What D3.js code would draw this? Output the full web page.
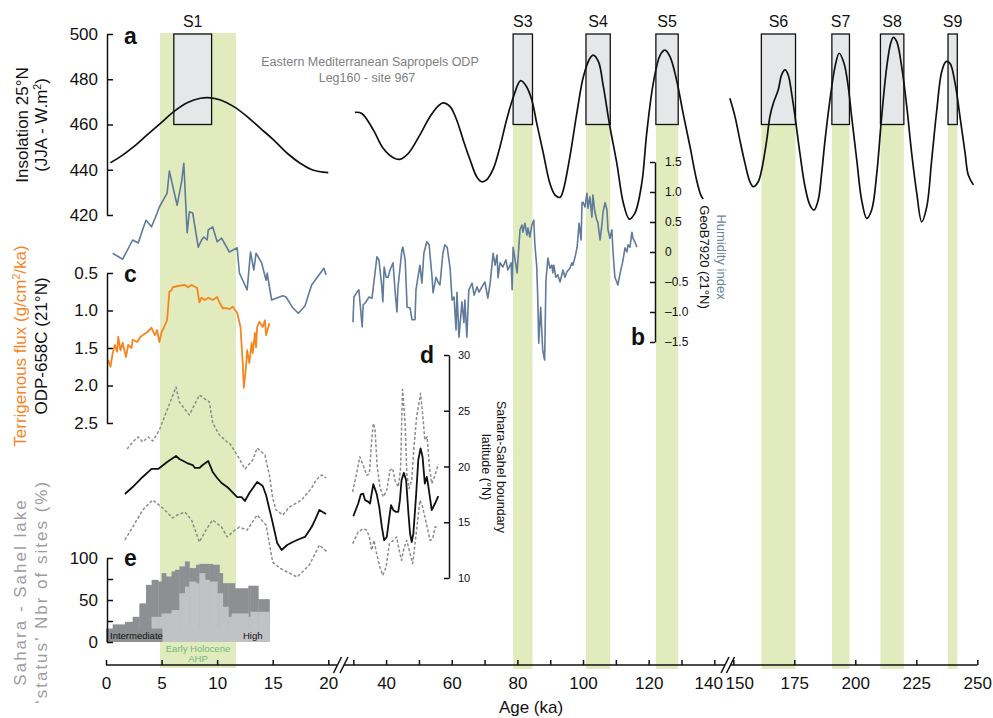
<!DOCTYPE html>
<html>
<head>
<meta charset="utf-8">
<script src="https://cdn.jsdelivr.net/npm/d3@7/dist/d3.min.js"></script>
<style>
  body { margin: 0; background: #fff; }
  text { font-family: "Liberation Sans", Arial, Helvetica, sans-serif; }
</style>
</head>
<body>
<svg id="graf" width="993" height="718"></svg>
<script>
// hodnoty

// insolace 25°N (a) - tři úseky osy
var insAge1 = [0.4,1.3,2.5,3.7,4.9,6.1,7.3,8.5,9.4,10.3,11.5,12.7,13.9,15.1,16.3,17.5,18.6,20.0]
var insVal1 = [443.1,445.8,450.2,455.4,460.5,465.7,469.6,471.6,471.8,470.8,467.9,463.5,458.3,453.1,447.3,442.8,439.9,438.7]
var insAge2 = [30.5,32.6,36.1,39.1,42.2,44.2,46.8,50.3,53.4,55.9,57.4,59.5,61.5,63.5,65.6,67.6,69.1,70.6,72.7,74.7,76.7,78.8,81.0,82.8,84.4,85.9,87.9,89.9,91.5,93.0,94.0,96.0,98.1,100.1,102.1,103.1,104.7,106.2,108.2,110.3,112.3,114.1,115.8,117.9,119.4,121.4,123.5,125.0,126.5,128.5,130.5,132.6,134.6,135.9,136.6]
var insVal2 = [465.4,464.9,457.6,449.5,445.3,444.6,447.3,455.4,463.5,468.2,469.6,467.9,462.0,453.1,444.3,436.9,434.7,435.5,440.6,450.2,462.0,472.3,479.4,476.7,470.8,460.5,447.3,434.0,428.8,427.8,431.1,445.8,464.9,481.1,489.3,490.7,487.8,476.7,459.0,442.8,425.2,418.2,420.8,434.0,456.1,478.2,490.7,492.9,490.0,479.7,464.9,450.2,435.5,428.8,427.1]
var insAge3 = [148.6,150.7,152.7,154.8,156.8,158.2,160.2,161.6,163.7,165.0,166.4,168.4,169.8,171.2,172.5,173.9,175.3,177.3,179.4,181.4,183.1,184.8,186.2,187.6,189.6,191.7,193.4,195.4,197.1,198.5,200.6,202.6,204.7,206.7,208.8,210.8,212.9,214.5,215.6,217.0,219.0,221.1,223.1,225.2,227.2,229.3,231.3,233.4,235.4,237.2,238.8,240.9,242.9,245.0,246.3,248.4]
var insVal3 = [471.6,463.5,453.1,442.8,434.7,432.5,434.7,439.9,453.1,463.5,469.4,475.2,481.9,484.1,481.9,473.8,463.5,447.3,432.5,424.4,422.2,426.6,438.4,453.1,470.8,485.6,491.5,487.0,476.7,463.5,444.3,426.6,418.5,422.2,438.4,463.5,485.6,495.9,498.5,496.6,485.6,467.9,447.3,429.6,417.0,423.7,444.3,466.4,483.3,487.8,487.0,478.2,463.5,447.3,437.7,433.3]

// humidity index GeoB7920 (b)
var humAge1 = [0.6,1.5,2.4,2.9,3.2,3.6,4.1,4.6,4.8,5.5,5.7,6.4,6.8,7.0,7.3,7.5,7.8,8.3,8.6,8.8,9.1,9.2,9.6,10.0,10.4,11.1,11.8,12.0,12.7,13.0,13.3,13.5,14.0,14.4,14.5,14.9,15.9,16.2,16.8,17.3,17.9,18.5,19.6,19.8]
var humVal1 = [-0.02,-0.12,0.2,0.15,0.32,0.53,0.42,0.65,0.75,0.98,1.35,0.78,1.17,1.48,0.32,0.67,0.65,0.08,0.2,0.25,0.2,0.37,0.42,0.17,0.23,0.0,0.07,-0.35,-0.63,0.0,-0.3,-0.02,-0.18,-0.47,-0.35,-0.8,-0.73,-0.75,-0.93,-1.02,-0.9,-0.55,-0.27,-0.38]
var humAge2 = [29.9,30.2,31.1,31.7,32.7,33.0,33.6,34.8,35.7,37.2,37.8,38.7,39.0,39.4,40.0,40.6,41.2,42.1,42.7,43.3,43.6,44.8,45.1,45.8,46.4,47.3,47.9,48.8,49.1,49.7,50.3,50.9,51.5,52.4,53.1,54.0,54.3,55.2,55.8,56.4,57.3,57.9,58.6,59.5,60.1,60.7,61.3,61.6,62.2,63.1,63.7,64.0,64.6,65.2,66.2,66.8,67.7,68.3,69.2,70.1,71.0,71.7,72.6,73.2,73.8,74.1,74.7,75.6,76.5,77.1,78.1,78.4,78.7,79.3,79.9,80.8,81.4,81.7,82.3,82.9,83.2,83.8,84.4,85.0,85.3,85.9,86.2,86.5,87.1,87.7,88.3,88.7,89.3,89.9,90.5,90.8,91.1,91.7,92.3,93.0,93.9,94.5,95.1,96.0,96.6,96.9,97.6,98.2,98.8,99.4,99.7,100.0,100.6,101.2,101.5,102.1,102.7,103.0,103.6,104.2,104.5,105.2,105.8,106.1,106.7,107.3,107.6,108.2,108.8,109.1,109.7,110.3,110.6,111.2,112.2,112.8,113.4,113.7,114.3,114.9,115.2,115.8,116.4]
var humVal2 = [-1.17,-0.75,-0.67,-0.63,-1.25,-0.88,-0.85,-0.75,-0.77,-0.08,-0.13,-0.58,-0.83,-0.25,-0.42,-0.42,-0.3,-0.18,-0.63,-1.0,-0.6,0.03,0.08,-0.13,-0.92,-0.93,-1.13,-1.13,-0.63,-0.42,-0.22,-0.52,-0.02,0.17,0.12,-0.42,-0.68,-0.42,-0.5,-0.55,-0.02,0.12,0.08,-0.27,-0.8,-0.75,-1.3,-0.67,-1.42,-0.83,-1.18,-0.8,-1.42,-0.63,-0.52,-0.72,-0.58,-0.67,-0.58,-0.5,-0.77,-0.52,-0.02,-0.22,-0.05,-0.43,-0.18,-0.25,-0.13,-0.3,-0.18,-0.63,0.08,-0.13,-0.35,0.37,0.45,0.33,0.48,0.28,0.4,0.25,0.45,0.53,0.15,-0.25,-0.75,-1.52,-0.92,-1.63,-1.8,-0.47,-0.1,-0.27,-0.22,-0.35,-0.22,-0.42,-0.38,-0.5,-0.3,-0.42,-0.33,-0.27,-0.18,-0.22,-0.08,0.08,0.48,0.2,0.82,0.83,0.75,0.98,0.73,0.92,0.58,0.95,0.67,0.53,0.5,0.2,0.48,0.67,0.82,0.7,0.37,0.23,0.37,0.03,-0.42,-0.5,-0.55,-0.38,-0.13,0.07,0.0,0.12,0.08,0.33,0.23,0.17,0.08]

// terrigenous flux ODP-658C (c)
var fluxAge = [0.2,0.4,0.6,0.8,1.0,1.1,1.3,1.5,1.8,2.0,2.3,2.4,2.8,3.1,3.3,3.7,4.1,4.4,4.6,4.8,5.0,5.2,5.5,5.7,5.9,6.0,6.6,7.1,7.4,7.7,8.2,8.4,8.6,8.9,9.2,9.6,10.0,10.2,10.5,10.9,11.1,11.4,11.6,11.8,12.1,12.3,12.4,12.6,12.7,12.9,13.1,13.2,13.4,13.5,13.6,13.8,14.1,14.3,14.4,14.7]
var fluxVal = [1.66,1.75,1.57,1.46,1.55,1.35,1.53,1.43,1.62,1.46,1.5,1.39,1.42,1.35,1.33,1.29,1.23,1.33,1.26,1.42,1.29,1.23,1.13,0.75,0.73,0.69,0.67,0.66,0.69,0.66,0.7,0.89,0.83,0.86,0.83,0.86,0.82,0.89,0.97,0.97,0.98,0.95,0.99,1.03,1.22,1.7,2.03,1.75,1.53,1.7,1.43,1.57,1.3,1.49,1.22,1.15,1.22,1.13,1.33,1.17]

// hranice Sahara-Sahel (d) - střed a meze
var latAge1 = [1.7,2.4,3.3,4.1,4.7,5.5,6.3,6.6,7.3,7.8,8.0,8.4,8.7,9.2,9.6,10.0,10.4,10.9,11.1,11.8,12.2,12.5,12.9,13.6,14.1,14.4,15.0,15.4,15.8,16.3,16.8,17.4,17.9,18.5,18.8,19.2,19.8]
var latMid1 = [17.53,18.16,19.06,19.78,19.78,20.4,20.94,20.67,20.31,20.13,19.87,19.87,20.13,20.49,19.51,18.97,18.52,18.16,17.98,17.26,17.26,16.91,17.62,18.61,18.25,17.44,14.93,13.14,12.51,12.96,13.23,13.5,13.68,14.57,15.2,16.1,15.74]
var latHiAge1 = [1.9,2.4,2.9,3.3,3.8,4.2,4.8,5.5,6.3,6.6,7.5,8.4,9.3,9.6,10.2,10.9,11.1,11.8,12.5,13.2,13.6,14.3,14.7,15.0,15.3,15.9,16.5,17.6,18.5,18.9,19.4,19.8]
var latHi1 = [21.57,22.2,22.65,22.2,22.65,22.29,23.27,25.07,27.13,25.78,24.62,26.41,25.78,23.9,22.83,22.2,22.11,21.03,19.78,20.58,21.66,21.03,19.24,17.17,16.1,15.65,16.37,17.0,18.07,18.79,19.24,18.97]
var latLoAge1 = [1.7,2.4,3.3,4.2,5.1,6.0,6.4,7.1,7.7,8.4,9.1,9.6,10.4,10.9,11.6,12.0,12.7,13.6,14.4,15.0,15.6,16.3,17.2,18.3,19.2,19.9]
var latLo1 = [13.41,14.57,16.1,17.0,16.28,15.38,15.65,15.92,15.2,13.23,14.48,15.2,14.57,13.68,14.3,14.57,14.3,15.65,14.75,11.43,10.9,10.54,10.09,11.17,12.96,12.33]
var latAge2 = [30.0,31.5,32.3,33.0,33.6,34.6,35.1,35.6,36.1,37.1,37.9,38.7,39.4,40.2,41.0,41.5,42.2,43.0,43.7,44.2,44.7,45.4,46.1,46.8,47.3,47.8,48.3,49.1,49.8,50.5,51.1,51.8,52.4,52.9,53.9,54.9,55.9]
var latMid2 = [15.54,16.68,17.51,17.57,16.98,16.83,16.68,17.57,18.41,17.57,16.38,14.58,13.38,13.68,15.48,16.53,16.08,15.93,15.93,16.98,18.77,19.43,18.77,15.78,13.98,13.23,13.98,17.28,20.57,21.62,20.87,18.47,19.07,18.17,16.08,16.68,17.34]
var latHiAge2 = [29.8,31.0,32.0,33.0,34.1,34.9,35.6,36.1,36.6,37.3,38.1,39.1,40.2,41.2,42.0,42.7,43.7,44.4,45.0,45.8,46.3,47.0,47.8,48.5,49.3,50.5,51.3,51.8,52.5,53.2,53.9,54.9,55.9]
var latHi2 = [17.72,19.37,20.87,20.12,19.22,19.37,22.37,23.86,23.41,19.97,18.17,17.28,17.87,19.67,19.82,18.77,18.17,19.82,26.92,23.86,19.37,18.02,18.77,21.77,24.46,26.56,24.16,22.37,22.66,19.97,18.47,19.22,20.21]
var latLoAge2 = [29.8,31.5,33.0,34.1,34.9,35.6,36.3,37.1,38.1,39.0,40.0,41.0,42.2,43.2,44.2,44.7,45.4,46.3,47.3,48.1,48.8,49.5,50.3,51.1,51.8,52.5,53.4,54.2,54.9,55.9]
var latLo2 = [13.08,14.13,14.43,14.28,13.68,12.49,13.38,12.19,10.99,10.24,10.99,13.08,13.38,13.68,12.19,11.59,12.63,13.38,12.19,11.29,13.08,14.88,16.98,16.38,15.48,14.58,13.38,13.53,14.58,14.58]

// stav jezer (e), hrany intervalů a % lokalit
var lakeEdge = [0,0.6,1.7,2.4,3.0,3.6,4.1,4.7,5.0,5.4,5.9,6.2,6.6,7.1,7.5,8.1,8.4,8.9,9.3,9.6,10.0,10.2,10.5,11.0,11.3,11.6,12.8,13.0,13.7,14.7]
var lakeTotal = [15,21,24,30,46,68,74,72,82,78,84,86,90,96,88,92,93,93,93,92,92,82,70,70,70,64,67,67,51]
var lakeHigh = [0,0,0,0,0,0,30,30,34,34,38,38,58,66,72,70,82,74,72,72,58,58,42,30,34,34,30,36,36]

// sapropely a AHP
var sapName = ["S1","S3","S4","S5","S6","S7","S8","S9"]
var sapStart = [6.1,78.7,100.9,122.2,161.5,190.4,210.3,238.0]
var sapEnd = [9.5,84.6,108.3,129.0,175.5,197.6,219.9,241.8]
var ahpStart = 4.85, ahpEnd = 11.7

var ticks1 = [0,5,10,15,20]
var ticks2 = d3.range(30, 141, 10)
var ticks3 = [150,175,200,225,250]

var svg = d3.select("#graf")
var zelena = "#e2ebbd"
var osaY = 665

// osa x je rozdělená na tři kusy
var x1 = d3.scaleLinear().domain([0, 20]).range([106, 328.3])
var x2 = d3.scaleLinear().domain([30, 140]).range([353.3, 714.3])
var x3 = d3.scaleLinear().domain([150, 250]).range([733.3, 977.3])
function xs(a) { return a < 25 ? x1(a) : (a < 145 ? x2(a) : x3(a)) }

var yIns = d3.scaleLinear().domain([420, 500]).range([215, 34])
var yHum = d3.scaleLinear().domain([-1.5, 1.5]).range([342, 162])
var yFlux = d3.scaleLinear().domain([0.5, 2.5]).range([273, 423])
var yLat = d3.scaleLinear().domain([10, 30]).range([578, 355])
var yLake = d3.scaleLinear().domain([0, 100]).range([642, 558])

// zelené pásy
svg.append("rect")
  .attr("x", x1(ahpStart)).attr("y", yIns(500) - 1)
  .attr("width", x1(ahpEnd) - x1(ahpStart))
  .attr("height", osaY + 4 - yIns(500))
  .attr("fill", zelena)

var sap = d3.range(sapName.length)
svg.selectAll("rect.pas").data(sap.slice(1)).enter().append("rect")
  .attr("class", "pas")
  .attr("x", i => xs(sapStart[i]))
  .attr("y", yIns(460))
  .attr("width", i => xs(sapEnd[i]) - xs(sapStart[i]))
  .attr("height", osaY + 4 - yIns(460))
  .attr("fill", zelena)

// šedé boxy sapropelů
svg.selectAll("rect.box").data(sap).enter().append("rect")
  .attr("class", "box")
  .attr("x", i => xs(sapStart[i]))
  .attr("y", yIns(500))
  .attr("width", i => xs(sapEnd[i]) - xs(sapStart[i]))
  .attr("height", yIns(460) - yIns(500))
  .attr("fill", "#e6e7e9").attr("stroke", "#111").attr("stroke-width", 1.3)

svg.selectAll("text.sap").data(sap).enter().append("text")
  .attr("x", i => (xs(sapStart[i]) + xs(sapEnd[i])) / 2)
  .attr("y", 27)
  .attr("text-anchor", "middle").attr("font-size", 16).attr("fill", "#111")
  .text(i => sapName[i])

// jezera (e)
var bins = d3.range(lakeTotal.length)
svg.selectAll("rect.inter").data(bins).enter().append("rect")
  .attr("x", i => x1(lakeEdge[i]))
  .attr("width", i => x1(lakeEdge[i + 1]) - x1(lakeEdge[i]) + 0.4)
  .attr("y", i => yLake(lakeTotal[i]))
  .attr("height", i => yLake(0) - yLake(lakeTotal[i]))
  .attr("fill", "#8e8f92")
svg.selectAll("rect.high").data(bins.filter(i => lakeHigh[i] > 0)).enter().append("rect")
  .attr("x", i => x1(lakeEdge[i]))
  .attr("width", i => x1(lakeEdge[i + 1]) - x1(lakeEdge[i]) + 0.4)
  .attr("y", i => yLake(lakeHigh[i]))
  .attr("height", i => yLake(0) - yLake(lakeHigh[i]))
  .attr("fill", "#c1c2c4")
// legenda dole v panelu e
svg.append("rect").attr("x", x1(0)).attr("y", yLake(16)).attr("width", x1(5.1) - x1(0)).attr("height", yLake(0) - yLake(16)).attr("fill", "#8e8f92")
svg.append("rect").attr("x", x1(5.1)).attr("y", yLake(16)).attr("width", x1(lakeEdge[lakeEdge.length - 1]) - x1(5.1)).attr("height", yLake(0) - yLake(16)).attr("fill", "#c1c2c4")
svg.append("text").attr("x", 110).attr("y", 639).attr("font-size", 9.5).attr("fill", "#111").text("Intermediate")
svg.append("text").attr("x", 243).attr("y", 639).attr("font-size", 9.5).attr("fill", "#111").text("High")
svg.append("text").attr("x", 198).attr("y", 652).attr("font-size", 9.5).attr("fill", "#72b67c").attr("text-anchor", "middle").text("Early Holocene")
svg.append("text").attr("x", 198).attr("y", 662).attr("font-size", 9.5).attr("fill", "#72b67c").attr("text-anchor", "middle").text("AHP")

// křivky
function krivka(age, val, y, barva, sirka, carka, hladka) {
  var l = d3.line().x(d => xs(d[0])).y(d => y(d[1]))
  if (hladka) l.curve(d3.curveCatmullRom.alpha(0.5))
  svg.append("path").datum(d3.zip(age, val))
    .attr("d", l)
    .attr("fill", "none")
    .attr("stroke", barva)
    .attr("stroke-width", sirka)
    .attr("stroke-dasharray", carka)
    .attr("stroke-linejoin", "round")
}

krivka(insAge1, insVal1, yIns, "#111", 1.7, null, true)
krivka(insAge2, insVal2, yIns, "#111", 1.7, null, true)
krivka(insAge3, insVal3, yIns, "#111", 1.7, null, true)

krivka(humAge1, humVal1, yHum, "#5f7a9a", 1.6)
krivka(humAge2, humVal2, yHum, "#5f7a9a", 1.6)

krivka(fluxAge, fluxVal, yFlux, "#f5861f", 1.8)

var seda = "#8c8c8c"
krivka(latHiAge1, latHi1, yLat, seda, 1.5, "3,2")
krivka(latLoAge1, latLo1, yLat, seda, 1.5, "3,2")
krivka(latAge1, latMid1, yLat, "#111", 1.8)
krivka(latHiAge2, latHi2, yLat, seda, 1.5, "3,2")
krivka(latLoAge2, latLo2, yLat, seda, 1.5, "3,2")
krivka(latAge2, latMid2, yLat, "#111", 1.8)

// osy
function upravOsu(g, vel) {
  g.attr("font-family", null).attr("font-size", vel)
  g.selectAll("line").attr("stroke", "#111").attr("stroke-width", 1.5)
  g.select(".domain").attr("stroke", "#111").attr("stroke-width", 1.5)
  g.selectAll("text").attr("fill", "#111")
}
function minus(d) { return d == 0 ? "0" : (d < 0 ? "\u2013" : "") + Math.abs(d).toFixed(1) }

var osaA = svg.append("g").attr("transform", "translate(107,0)")
  .call(d3.axisLeft(yIns).tickValues([420,440,460,480,500]).tickSizeInner(-6).tickSizeOuter(0).tickPadding(9))
upravOsu(osaA, 17)

var osaC = svg.append("g").attr("transform", "translate(107,0)")
  .call(d3.axisLeft(yFlux).tickValues([0.5,1.0,1.5,2.0,2.5]).tickFormat(d3.format(".1f")).tickSizeInner(-6).tickSizeOuter(0).tickPadding(9))
upravOsu(osaC, 17)

var osaE = svg.append("g").attr("transform", "translate(107,0)")
  .call(d3.axisLeft(yLake).tickValues([0,25,50,75,100]).tickFormat(d => d % 50 == 0 ? d : "").tickSizeInner(-6).tickSizeOuter(0).tickPadding(9))
upravOsu(osaE, 17)

var osaB = svg.append("g").attr("transform", "translate(655,0)")
  .call(d3.axisRight(yHum).tickValues([-1.5,-1,-0.5,0,0.5,1,1.5]).tickFormat(minus).tickSizeInner(-5).tickSizeOuter(0).tickPadding(10))
upravOsu(osaB, 12)

var osaD = svg.append("g").attr("transform", "translate(449,0)")
  .call(d3.axisRight(yLat).tickValues([10,15,20,25,30]).tickSizeInner(-5).tickSizeOuter(0).tickPadding(9))
upravOsu(osaD, 11)

// spodní osa ve třech kusech
var kusy = [[x1, ticks1, d => d], [x2, ticks2, d => (d >= 40 && d % 20 == 0) ? d : ""], [x3, ticks3, d => d]]
kusy.forEach(function(k) {
  var g = svg.append("g").attr("transform", "translate(0," + osaY + ")")
    .call(d3.axisBottom(k[0]).tickValues(k[1]).tickFormat(k[2]).tickSizeInner(-5).tickSizeOuter(0).tickPadding(12))
  g.select(".domain").remove()
  upravOsu(g, 17)
  g.selectAll(".tick").filter(d => d === 140).select("text").attr("dx", -6)
  g.selectAll(".tick").filter(d => d === 150).select("text").attr("dx", 6)
})
var cary = [[x1(0), 337.5], [344, 725], [730.5, x3(250)]]
cary.forEach(function(c) {
  svg.append("line").attr("x1", c[0]).attr("x2", c[1]).attr("y1", osaY).attr("y2", osaY).attr("stroke", "#111").attr("stroke-width", 1.5)
})
;[337.5, 344, 725, 730.5].forEach(function(s) {
  svg.append("line").attr("x1", s - 4).attr("y1", osaY + 8).attr("x2", s + 4).attr("y2", osaY - 8).attr("stroke", "#111").attr("stroke-width", 1.5)
})

// popisky
function popisek(x, y, uhel, casti, barva, vel, rozpal) {
  var t = svg.append("text")
    .attr("transform", "translate(" + x + "," + y + ") rotate(" + uhel + ")")
    .attr("text-anchor", "middle").attr("fill", barva).attr("font-size", vel)
  if (rozpal) t.attr("letter-spacing", rozpal)
  casti.forEach(function(c) {
    if (typeof c === "object") t.append("tspan").attr("baseline-shift", "super").attr("font-size", vel * 0.62).text(c.sup)
    else t.append("tspan").text(c)
  })
}

popisek(28, 125, -90, ["Insolation 25°N"], "#111", 17)
popisek(47, 125, -90, ["(JJA - W.m", {sup: "2"}, ")"], "#111", 17)
popisek(26, 346, -90, ["Terrigenous flux (g/cm", {sup: "2"}, "/ka)"], "#f5861f", 17)
popisek(47, 346, -90, ["ODP-658C (21°N)"], "#111", 17)
popisek(26, 592, -90, ["Sahara - Sahel lake"], "#9d9d9d", 17, 2)
popisek(47, 592, -90, ["\u2018status\u2019 Nbr of sites (%)"], "#9d9d9d", 17, 2)
popisek(700, 257, 90, ["GeoB7920 (21°N)"], "#111", 13)
popisek(717, 257, 90, ["Humidity index"], "#6b84a3", 13)
popisek(497, 467, 90, ["Sahara-Sahel boundary"], "#111", 12.5)
popisek(482, 467, 90, ["latitude (°N)"], "#111", 12.5)

svg.append("text").attr("x", 370).attr("y", 66).attr("text-anchor", "middle").attr("font-size", 12.5).attr("fill", "#808080").text("Eastern Mediterranean Sapropels ODP")
svg.append("text").attr("x", 367).attr("y", 82).attr("text-anchor", "middle").attr("font-size", 12.5).attr("fill", "#808080").text("Leg160 - site 967")
svg.append("text").attr("x", 531).attr("y", 713).attr("text-anchor", "middle").attr("font-size", 17).attr("fill", "#111").text("Age (ka)")

// písmena panelů
var pismena = [["a", 124, 44], ["b", 631, 345], ["c", 124, 282], ["d", 420, 363], ["e", 124, 566]]
pismena.forEach(function(p) {
  svg.append("text").attr("x", p[1]).attr("y", p[2]).attr("font-size", 23).attr("font-weight", "bold").attr("fill", "#111").text(p[0])
})
</script>
</body>
</html>
